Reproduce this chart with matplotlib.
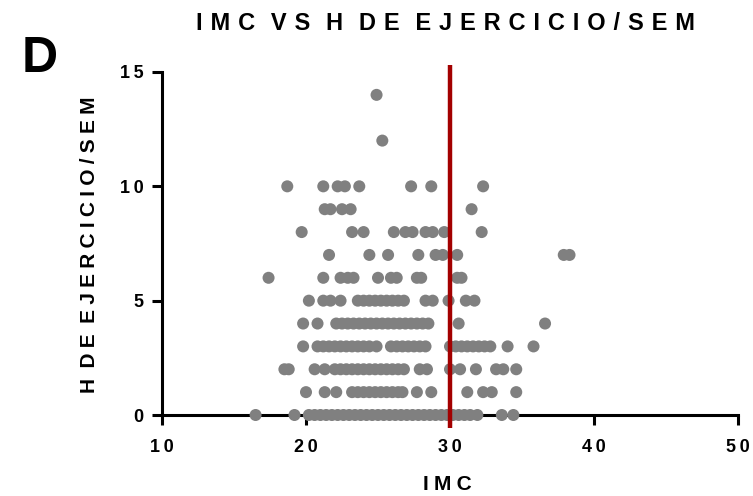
import matplotlib
matplotlib.use("Agg")
import matplotlib.pyplot as plt

plt.rcParams['font.family'] = ['Liberation Sans', 'DejaVu Sans']

# IMC values grouped by weekly hours of exercise
h0 = [16.5, 19.2, 20.2, 20.6, 21.0, 21.4, 21.8, 22.2, 22.6, 23.0, 23.4, 23.8, 24.2,
      24.6, 25.0, 25.4, 25.8, 26.2, 26.6, 27.0, 27.4, 27.8, 28.2, 28.6, 29.0, 29.4,
      29.8, 30.2, 30.6, 31.0, 31.4, 31.9, 33.6, 34.4]
h1 = [20.0, 21.3, 22.1, 23.2, 23.6, 24.0, 24.4, 24.8, 25.2, 25.6, 26.0, 26.4, 26.7,
      27.7, 28.7, 31.2, 32.3, 32.9, 34.6]
h2 = [18.5, 18.8, 20.6, 21.3, 22.0, 22.4, 22.8, 23.2, 23.6, 24.0, 24.4, 24.8, 25.2,
      25.6, 26.0, 26.4, 26.8, 27.9, 28.4, 30.0, 30.7, 31.8, 33.2, 33.7, 34.6]
h3 = [19.8, 20.8, 21.2, 21.6, 22.0, 22.4, 22.8, 23.2, 23.6, 24.0, 24.4, 24.9, 25.9,
      26.3, 26.7, 27.1, 27.5, 27.9, 28.3, 30.0, 30.4, 30.8, 31.2, 31.6, 32.0, 32.4,
      32.8, 34.0, 35.8]
h4 = [19.8, 20.8, 22.1, 22.5, 22.9, 23.3, 23.7, 24.1, 24.5, 24.9, 25.3, 25.7, 26.1,
      26.5, 26.9, 27.3, 27.7, 28.1, 28.5, 30.6, 36.6]
h5 = [20.2, 21.2, 21.7, 22.4, 23.6, 24.0, 24.4, 24.8, 25.2, 25.6, 26.0, 26.4, 26.8,
      28.3, 28.8, 29.9, 31.1, 31.7]
h6 = [17.4, 21.2, 22.4, 22.9, 23.3, 25.0, 25.9, 26.3, 27.7, 28.0, 30.5, 30.8]
h7 = [21.6, 24.4, 25.7, 27.8, 29.0, 29.5, 30.5, 37.9, 38.3]
h8 = [19.7, 23.2, 24.0, 26.1, 26.9, 27.4, 28.3, 28.8, 29.6, 32.2]
h9 = [21.3, 21.7, 22.5, 23.1, 31.5]
h10 = [18.7, 21.2, 22.2, 22.7, 23.7, 27.3, 28.7, 32.3]
h12 = [25.3]
h14 = [24.9]

horas = [0, 1, 2, 3, 4, 5, 6, 7, 8, 9, 10, 12, 14]
grupos = [h0, h1, h2, h3, h4, h5, h6, h7, h8, h9, h10, h12, h14]

imc = [v for g in grupos for v in g]
horas_sem = [h for h, g in zip(horas, grupos) for _ in g]

imc_corte = 30
x_ticks = [10, 20, 30, 40, 50]
y_ticks = [0, 5, 10, 15]

titulo = "IMC VS H DE EJERCICIO/SEM"
etiqueta_x = "IMC"
etiqueta_y = "H DE EJERCICIO/SEM"
panel = "D"

# unicode spaces used as letter tracking
SP_THIN = "\u2009"
SP_THIRD = "\u2004"
SP_QUARTER = "\u2005"
SP_SIXTH = "\u2006"
SP_EN = "\u2002"


def tracked(s, letter_sep, word_sep):
    return word_sep.join(letter_sep.join(w) for w in s.split(" "))


fig = plt.figure(figsize=(7.53, 4.96), dpi=100)
ax = fig.add_axes([162 / 753, 81 / 496, 576 / 753, 343 / 496])

ax.scatter(imc, horas_sem, s=75, color="#808080", edgecolors="none",
           zorder=3, clip_on=False)
ax.plot([imc_corte, imc_corte], [-0.55, 15.3], color="#a30000", lw=3.2,
        zorder=4, clip_on=False, solid_capstyle="butt")

ax.set_xlim(10, 50)
ax.set_ylim(0, 15)
for side in ("top", "right"):
    ax.spines[side].set_visible(False)
for side in ("left", "bottom"):
    ax.spines[side].set_linewidth(2.2)
    ax.spines[side].set_zorder(2)

ax.set_xticks(x_ticks)
ax.set_xticklabels([tracked(str(t), SP_THIN, SP_THIN) for t in x_ticks],
                   fontweight="bold", fontsize=13)
ax.set_yticks(y_ticks)
ax.set_yticklabels([tracked(str(t), SP_THIN, SP_THIN) for t in y_ticks],
                   fontweight="bold", fontsize=13)
ax.tick_params(direction="out", length=7.5, width=2.2)
ax.tick_params(axis="x", pad=9.5)
ax.tick_params(axis="y", pad=6)

fig.text(445 / 753, 1 - 23 / 496, tracked(titulo, SP_THIRD, SP_EN + SP_SIXTH),
         ha="center", va="center", fontsize=17, fontweight="bold")
fig.text(447 / 753, 1 - 484 / 496, tracked(etiqueta_x, SP_QUARTER, SP_EN),
         ha="center", va="center", fontsize=15, fontweight="bold")
fig.text(90 / 753, 1 - 245 / 496, tracked(etiqueta_y, SP_QUARTER, SP_THIRD + SP_SIXTH),
         ha="center", va="center", rotation=90, fontsize=15, fontweight="bold")
fig.text(22 / 753, 1 - 59 / 496, panel, ha="left", va="center", fontsize=36,
         fontweight="bold")

fig.savefig("out.png", dpi=100)
